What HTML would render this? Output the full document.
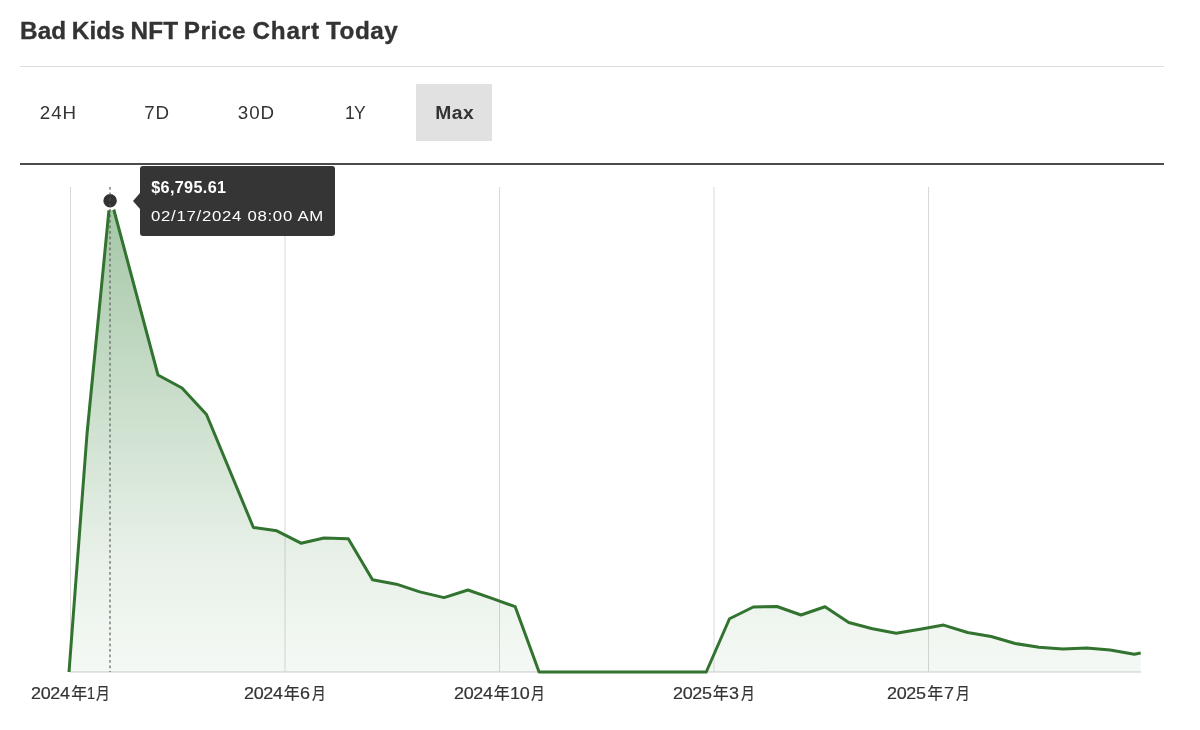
<!DOCTYPE html>
<html lang="en">
<head>
<meta charset="utf-8">
<title>Bad Kids NFT Price Chart Today</title>
<style>
html,body{margin:0;padding:0;background:#fff;}
body{width:1200px;height:730px;position:relative;overflow:hidden;font-family:"Liberation Sans","Noto Sans CJK SC",sans-serif;color:#333;}
.abs{position:absolute;white-space:nowrap;}
h1{position:absolute;left:20px;top:14.6px;margin:0;font-size:24.3px;line-height:32px;font-weight:700;color:#333;white-space:nowrap;letter-spacing:0.1px;word-spacing:-1.2px;-webkit-text-stroke:0.35px #333;}
.hr1{position:absolute;left:20px;width:1144px;top:66px;height:1px;background:#dcdcdc;}
.hr2{position:absolute;left:20px;width:1144px;top:163.1px;height:1.8px;background:#4c4c4c;}
.tab{position:absolute;top:84px;height:57px;line-height:58.4px;font-size:17.5px;color:#333;text-align:center;}
.tab span{display:inline-block;letter-spacing:0.9px;margin-right:-0.9px;transform:scaleX(1.07);}
.tab.on{background:#e1e1e1;font-weight:700;}
.tab.on span{letter-spacing:0.5px;margin-right:-0.5px;transform:scaleX(1.1);position:relative;left:0.8px;}
.tip{position:absolute;left:140px;top:166px;width:195px;height:70px;background:rgba(45,45,45,0.96);border-radius:3px;color:#fff;}
.tip:before{content:"";position:absolute;left:-7px;top:27px;border-right:7px solid rgba(45,45,45,0.96);border-top:8px solid transparent;border-bottom:8px solid transparent;}
.tip .p{position:absolute;left:11.2px;top:10.5px;font-size:16.2px;line-height:20px;font-weight:700;letter-spacing:0.35px;}
.tip .d{position:absolute;left:11.2px;top:40px;font-size:15.4px;line-height:20px;letter-spacing:0.65px;transform:scaleX(1.09);transform-origin:0 50%;}
.xl{position:absolute;top:682.8px;width:120px;margin-left:-60.1px;text-align:center;font-size:16px;line-height:22px;color:#333;letter-spacing:0;-webkit-text-stroke:0.2px #333;}
.xl .n{display:inline-block;transform:scaleX(1.12);transform-origin:0 50%;letter-spacing:-0.3px;margin-right:5.3px;}
.xl .m{display:inline-block;transform:scaleX(1.12);transform-origin:0 50%;letter-spacing:-0.3px;margin-left:0.6px;margin-right:3.2px;}
.xl .y{display:inline-block;transform:scaleX(0.86);transform-origin:0 50%;margin-right:-2.2px;}
.xl .m1{transform:scaleX(0.9);margin-left:-0.6px;margin-right:0.4px;}
svg{position:absolute;left:0;top:0;}
</style>
</head>
<body>
<h1>Bad Kids NFT <span style="letter-spacing:0.6px">Price</span><span style="letter-spacing:0.8px"> Chart</span><span style="letter-spacing:0.5px"> Today</span></h1>
<div class="hr1"></div>
<div class="tab" style="left:20px;width:76px;"><span>24H</span></div>
<div class="tab" style="left:126px;width:61px;"><span>7D</span></div>
<div class="tab" style="left:219px;width:74px;"><span>30D</span></div>
<div class="tab" style="left:327px;width:56px;"><span style="letter-spacing:-0.8px;margin-right:0;transform:none">1Y</span></div>
<div class="tab on" style="left:416px;width:76px;"><span>Max</span></div>
<div class="hr2"></div>

<svg width="1200" height="730" viewBox="0 0 1200 730">
<defs>
<linearGradient id="g" x1="0" y1="201" x2="0" y2="672" gradientUnits="userSpaceOnUse">
<stop offset="0" stop-color="#2e7d32" stop-opacity="0.435"/>
<stop offset="0.75" stop-color="#2e7d32" stop-opacity="0.112"/>
<stop offset="1" stop-color="#2e7d32" stop-opacity="0.05"/>
</linearGradient>
</defs>
<g stroke="#d9d9d9" stroke-width="1">
<line x1="70.5" y1="187" x2="70.5" y2="672"/>
<line x1="285" y1="187" x2="285" y2="672"/>
<line x1="499.5" y1="187" x2="499.5" y2="672"/>
<line x1="714" y1="187" x2="714" y2="672"/>
<line x1="928.5" y1="187" x2="928.5" y2="672"/>
</g>
<line x1="70" y1="672" x2="1141" y2="672" stroke="#dddddd" stroke-width="1.5"/>
<path id="area" fill="url(#g)" stroke="none" d="M69,672 L87,434 L110.3,196.5 L158,375 L182,388 L206.5,414.5 L253.4,527.5 L276.8,530.8 L301,543.2 L324,538 L348.3,538.8 L372.5,579.8 L396.4,584.2 L419.8,591.9 L444,597.6 L467.9,590 L491.3,598.2 L515.2,606.7 L539.1,672 L706.25,672 L729.5,618.75 L753.25,607 L777,606.5 L801,615 L825,606.75 L848.75,622.5 L872.5,628.75 L896.25,633.25 L920,629.25 L943.6,625.1 L967.6,632.5 L991.2,636.5 L1015.2,643.5 L1039,647.2 L1062.8,649 L1086.8,648.1 L1110.2,650 L1134.2,654.2 L1140.7,653 L1140.7,671.7 Z"/>
<path fill="none" stroke="#31732f" stroke-width="3" stroke-linejoin="round" stroke-linecap="butt" d="M69,672 L87,434 L110.3,196.5 L158,375 L182,388 L206.5,414.5 L253.4,527.5 L276.8,530.8 L301,543.2 L324,538 L348.3,538.8 L372.5,579.8 L396.4,584.2 L419.8,591.9 L444,597.6 L467.9,590 L491.3,598.2 L515.2,606.7 L539.1,672 L706.25,672 L729.5,618.75 L753.25,607 L777,606.5 L801,615 L825,606.75 L848.75,622.5 L872.5,628.75 L896.25,633.25 L920,629.25 L943.6,625.1 L967.6,632.5 L991.2,636.5 L1015.2,643.5 L1039,647.2 L1062.8,649 L1086.8,648.1 L1110.2,650 L1134.2,654.2 L1140.7,653"/>
<circle cx="110.1" cy="200.7" r="8.25" fill="#333" stroke="#fff" stroke-width="3"/>
<line x1="110" y1="187" x2="110" y2="672" stroke="#555" stroke-width="1.1" stroke-dasharray="2.8 2.7"/>
</svg>

<div class="tip"><div class="p">$6,795.61</div><div class="d">02/17/2024 08:00 AM</div></div>

<div class="xl" style="left:70.5px;"><span class="n">2024</span>年<span class="m m1">1</span><span class="y">月</span></div>
<div class="xl" style="left:285px;"><span class="n">2024</span>年<span class="m">6</span><span class="y">月</span></div>
<div class="xl" style="left:499.5px;"><span class="n">2024</span>年<span class="m">10</span><span class="y">月</span></div>
<div class="xl" style="left:714px;"><span class="n">2025</span>年<span class="m">3</span><span class="y">月</span></div>
<div class="xl" style="left:928.5px;"><span class="n">2025</span>年<span class="m">7</span><span class="y">月</span></div>
</body>
</html>
